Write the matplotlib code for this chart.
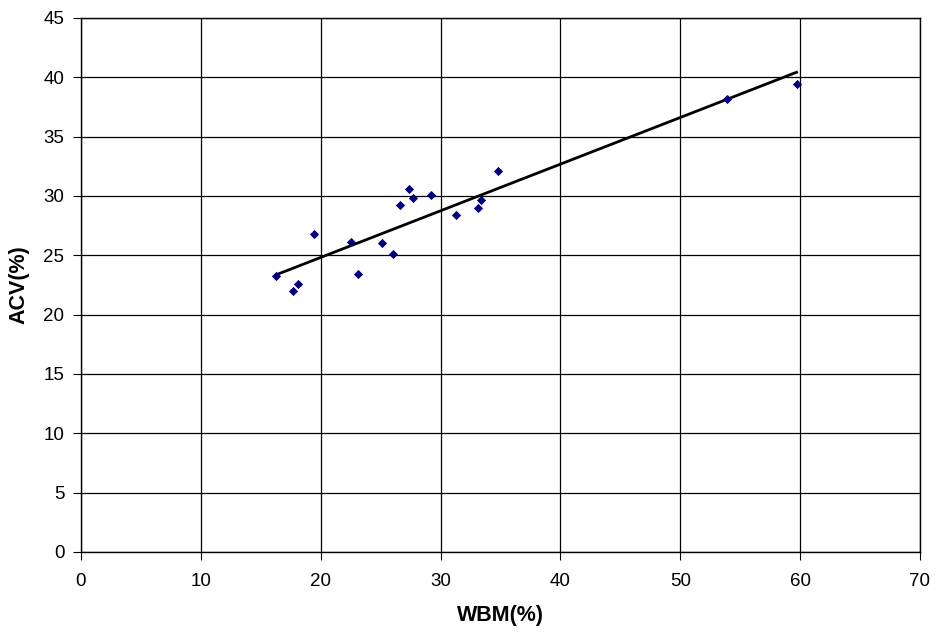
import numpy as np
import matplotlib
matplotlib.use("Agg")
import matplotlib.pyplot as plt

plt.rcParams['font.family'] = ['Liberation Sans', 'DejaVu Sans']

wbm = [16.3, 17.7, 18.1, 19.4, 22.5, 23.1, 25.1, 26.0, 26.6, 27.4, 27.7, 29.2,
       31.3, 33.1, 33.4, 34.8, 53.9, 59.7]
acv = [23.3, 22.0, 22.6, 26.8, 26.1, 23.4, 26.0, 25.1, 29.2, 30.6, 29.8, 30.1,
       28.4, 29.0, 29.7, 32.1, 38.2, 39.4]
x_ticks = [0, 10, 20, 30, 40, 50, 60, 70]
y_ticks = [0, 5, 10, 15, 20, 25, 30, 35, 40, 45]

fig = plt.figure(figsize=(9.37, 6.37), dpi=100)
ax = fig.add_axes([81/937, 1-552/637, (920-81)/937, (552-18)/637])

ax.set_xlim(0, 70)
ax.set_ylim(0, 45)
ax.set_xticks(x_ticks)
ax.set_yticks(y_ticks)
ax.grid(True, color='black', linewidth=0.9)
ax.set_axisbelow(True)

slope, intercept = np.polyfit(wbm, acv, 1)
xs = np.array([min(wbm), max(wbm)])
ax.plot(xs, slope*xs + intercept, color='black', linewidth=2, zorder=3)

ax.scatter(wbm, acv, marker='D', s=22, color='#000080', zorder=4, linewidths=0)

for s in ax.spines.values():
    s.set_color('black')
    s.set_linewidth(1)
ax.tick_params(direction='out', length=6, labelsize=13.5, color='black')
ax.tick_params(axis='x', pad=9)
ax.tick_params(axis='y', pad=6)
ax.set_xlabel('WBM(%)', fontsize=15.5, fontweight='bold', labelpad=11)
ax.set_ylabel('ACV(%)', fontsize=15.5, fontweight='bold', labelpad=10)

fig.savefig('out.png', dpi=100)
